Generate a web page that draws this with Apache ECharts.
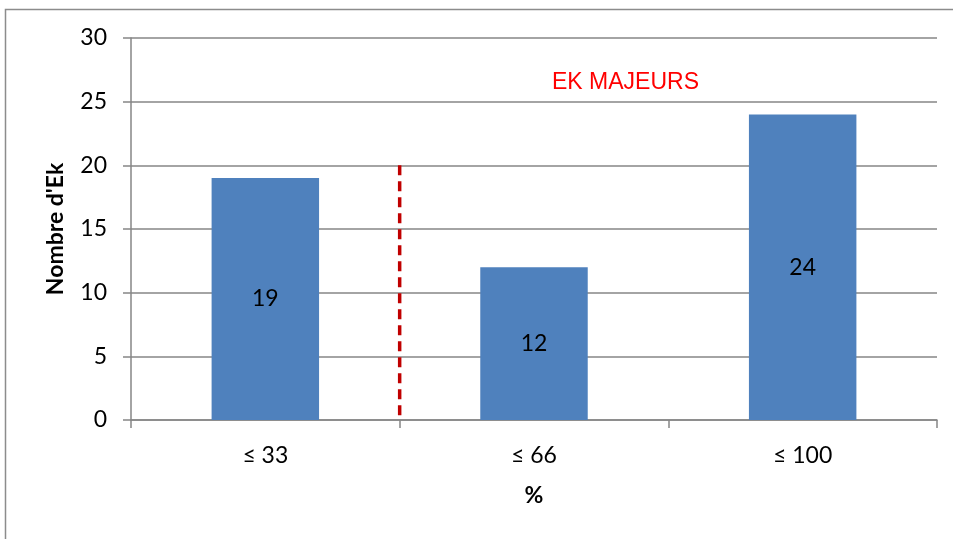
<!DOCTYPE html>
<html><head><meta charset="utf-8">
<script src="https://cdn.jsdelivr.net/npm/echarts@6/dist/echarts.min.js"></script>
<style>html,body{margin:0;padding:0;background:#fff}#c{width:953px;height:539px}</style>
</head><body><div id="c"></div>
<script>
const categories = ['≤ 33', '≤ 66', '≤ 100'];
const values = [19, 12, 24];
const yTicks = [0, 5, 10, 15, 20, 25, 30];
const dividerX = [1, 1];      // boundary between 1st and 2nd category (0..3 scale)
const dividerY = [20, 0];
const annotation = 'EK MAJEURS';
const yName = "Nombre d'Ek";
const xName = '%';

const chart = echarts.init(document.getElementById('c'), null, {renderer: 'canvas'});
const gray = '#868686';
const font = 'Lato, "Open Sans", sans-serif';
chart.setOption({
  animation: false,
  backgroundColor: '#fff',
  graphic: [
    {type: 'rect', shape: {x: 5.5, y: 9.5, width: 1000, height: 1000}, style: {fill: 'none', stroke: '#8c8c8c', lineWidth: 1.5}, z: -1},
    {type: 'text', left: 552, top: 71, style: {text: annotation, fill: '#ff0000', font: '23px "Liberation Sans", Arial, sans-serif'}}
  ],
  grid: {left: 131, right: 16, top: 38, bottom: 119},
  xAxis: [
    {type: 'category', data: categories, boundaryGap: true,
     axisLine: {lineStyle: {color: gray, width: 1.5}},
     axisTick: {show: true, length: 8, alignWithLabel: false, lineStyle: {color: gray, width: 1.5}},
     axisLabel: {color: '#000', fontSize: 23, fontFamily: font, margin: 24},
     name: xName, nameLocation: 'middle', nameGap: 64,
     nameTextStyle: {color: '#000', fontSize: 23, fontWeight: 'bold', fontFamily: font}},
    {type: 'value', min: 0, max: 3, show: false}
  ],
  yAxis: {
    type: 'value', min: 0, max: 30, interval: 5,
    axisLine: {show: true, lineStyle: {color: gray, width: 1.5}},
    axisTick: {show: true, length: 8, lineStyle: {color: gray, width: 1.5}},
    splitLine: {lineStyle: {color: gray, width: 1.5}},
    axisLabel: {color: '#000', fontSize: 23, fontFamily: font, margin: 24,
      formatter: v => yTicks.includes(v) ? String(v) : ''},
    name: yName, nameLocation: 'middle', nameGap: 64, nameRotate: 90,
    nameTextStyle: {color: '#000', fontSize: 23, fontWeight: 'bold', fontFamily: font}
  },
  series: [
    {type: 'bar', data: values, barWidth: '40%', xAxisIndex: 0,
     itemStyle: {color: '#4f81bd'},
     label: {show: true, position: 'inside', color: '#000', fontSize: 23, fontFamily: font}},
    {type: 'line', xAxisIndex: 1, data: dividerX.map((x, i) => [x, dividerY[i]]),
     symbol: 'none', lineStyle: {color: '#c00000', width: 3.5, type: [10, 6]}, z: 5}
  ]
});
</script></body></html>
